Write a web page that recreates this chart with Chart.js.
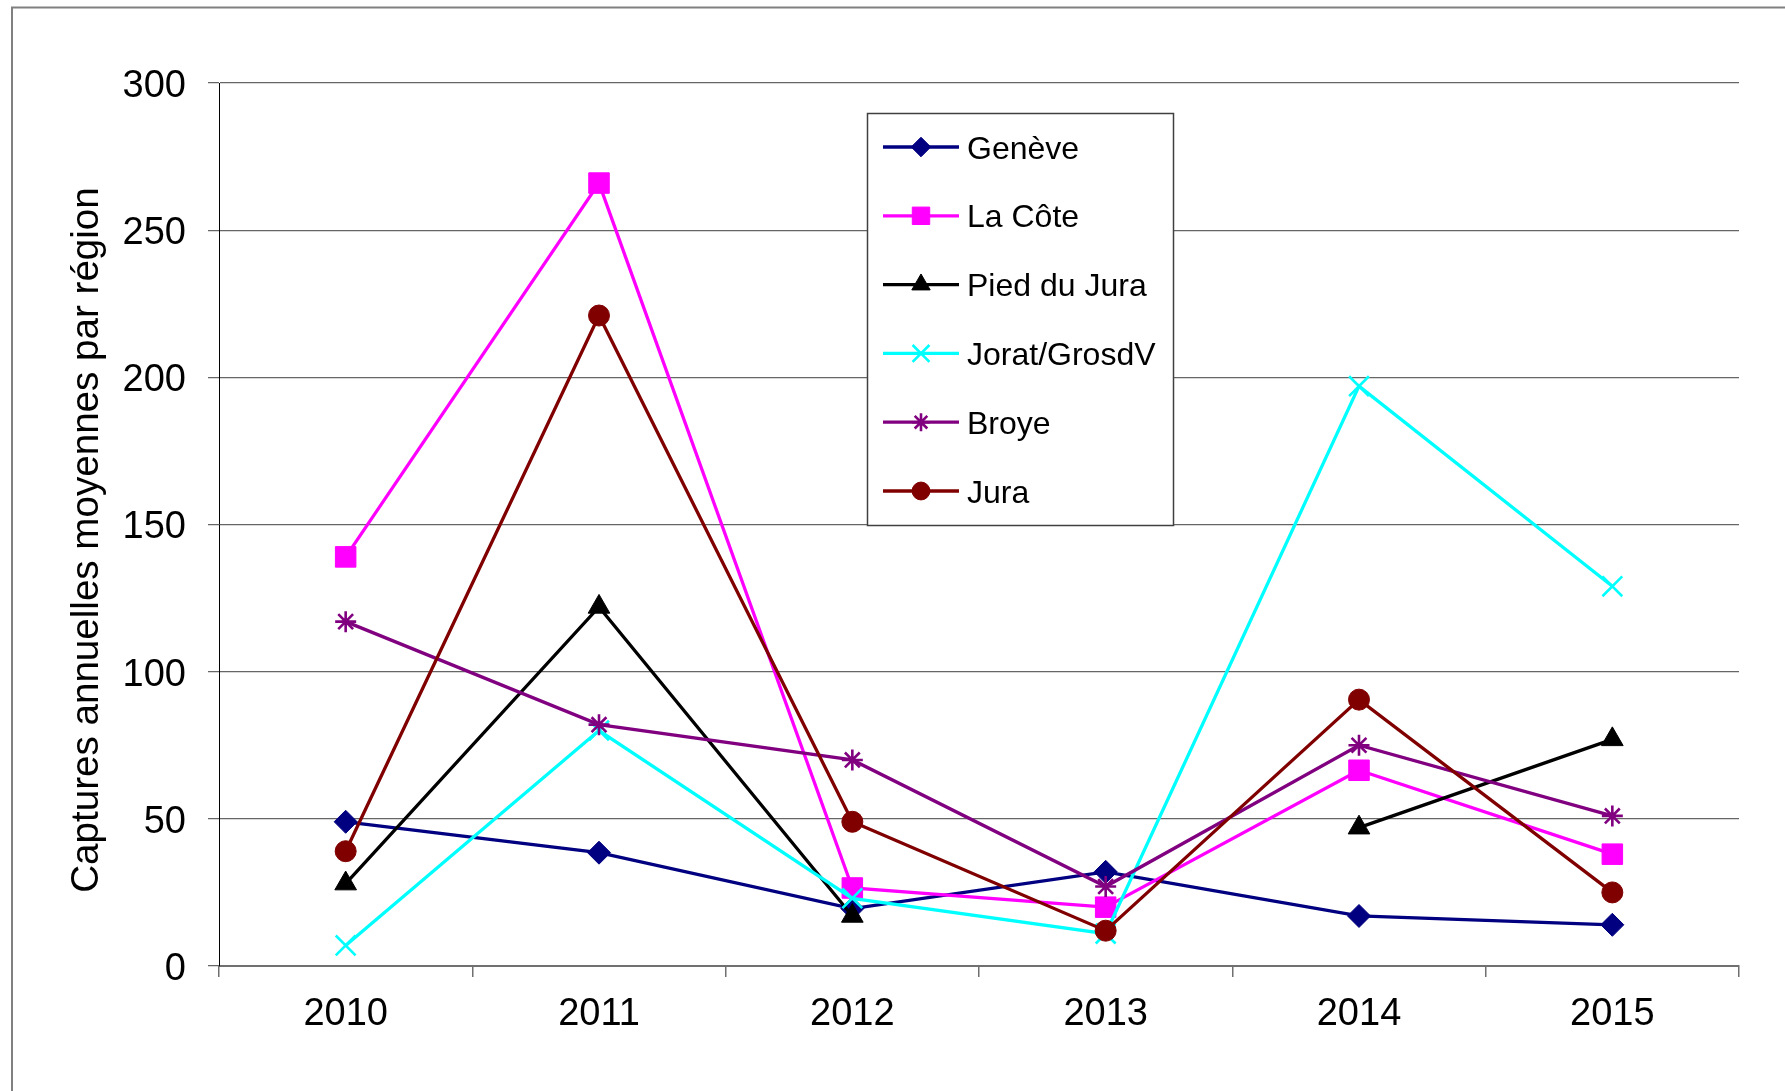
<!DOCTYPE html>
<html lang="fr">
<head>
<meta charset="utf-8">
<title>Captures annuelles moyennes par région</title>
<script src="https://cdn.jsdelivr.net/npm/chart.js@4/dist/chart.umd.min.js"></script>
<style>
  html, body { margin: 0; padding: 0; background: #ffffff; }
  #wrap { position: relative; width: 1785px; height: 1091px; }
</style>
</head>
<body>
<div id="wrap"><canvas id="chart"></canvas></div>
<script>
// Years on the horizontal axis
const years = ['2010', '2011', '2012', '2013', '2014', '2015'];

// Mean yearly captures per region
const geneve     = [49, 38.5, 19.5, 32, 17, 14];
const laCote     = [139, 266, 26.5, 20, 66.5, 38];
const piedDuJura = [28, 122, 17, null, 47, 77];
const jorat      = [7, 80, 23, 11, 197, 129];
const broye      = [117, 82, 70, 27, 75, 51];
const jura       = [39, 221, 49, 12, 90.5, 25];

// Value axis
const yMin = 0, yMax = 300, yStep = 50;
const yTitle = 'Captures annuelles moyennes par région';

const FONT = '"Liberation Sans", Arial, Helvetica, sans-serif';

function series(label, data, color, style, radius, pbw) {
  return {
    label, data,
    borderColor: color,
    backgroundColor: color,
    borderWidth: 3.3,
    tension: 0,
    spanGaps: false,
    pointStyle: style,
    pointRadius: radius,
    pointBackgroundColor: color,
    pointBorderColor: color,
    pointBorderWidth: pbw
  };
}

const datasets = [
  series('Genève', geneve, '#000080', 'rectRot', 11.5, 1),
  series('La Côte', laCote, '#FF00FF', 'rect', 14.5, 1),
  series('Pied du Jura', piedDuJura, '#000000', 'triangle', 12.5, 1),
  series('Jorat/GrosdV', jorat, '#00FFFF', 'crossRot', 14, 2.6),
  series('Broye', broye, '#800080', 'star', 10.5, 2.6),
  series('Jura', jura, '#800000', 'circle', 10.5, 1)
];
// later series are painted over earlier ones
datasets.forEach((d, i) => { d.order = datasets.length - i; });

const drawMarker = Chart.helpers.drawPoint;

// outer frame and rotated axis title
const framePlugin = {
  id: 'frame',
  beforeDraw(chart) {
    const ctx = chart.ctx;
    ctx.save();
    ctx.fillStyle = '#ffffff';
    ctx.fillRect(0, 0, chart.width, chart.height);
    ctx.strokeStyle = '#808080';
    ctx.lineWidth = 2;
    ctx.strokeRect(12, 7.5, chart.width + 50, chart.height + 50);
    ctx.restore();
  },
  afterDraw(chart) {
    const ctx = chart.ctx;
    ctx.save();
    ctx.translate(98, 540);
    ctx.rotate(-Math.PI / 2);
    ctx.font = '38.6px ' + FONT;
    ctx.fillStyle = '#000000';
    ctx.textAlign = 'center';
    ctx.textBaseline = 'alphabetic';
    ctx.fillText(yTitle, 0, 0);
    ctx.restore();
  }
};

// boxed legend: line sample with the series marker, then the name
const boxLegend = {
  id: 'boxLegend',
  afterDraw(chart) {
    const ctx = chart.ctx;
    const bx = 867, by = 113, bw = 306, bh = 412;
    ctx.save();
    ctx.fillStyle = '#ffffff';
    ctx.fillRect(bx, by, bw, bh);
    ctx.strokeStyle = '#404040';
    ctx.lineWidth = 1.5;
    ctx.strokeRect(bx + 0.5, by + 0.5, bw, bh);
    chart.data.datasets.forEach((ds, i) => {
      const cy = 147 + i * 68.8;
      ctx.strokeStyle = ds.borderColor;
      ctx.lineWidth = 3.3;
      ctx.beginPath();
      ctx.moveTo(883, cy);
      ctx.lineTo(959, cy);
      ctx.stroke();
      ctx.fillStyle = ds.pointBackgroundColor;
      ctx.strokeStyle = ds.pointBorderColor;
      ctx.lineWidth = ds.pointBorderWidth;
      drawMarker(ctx, {
        pointStyle: ds.pointStyle,
        radius: ds.pointRadius * 0.85,
        rotation: 0,
        borderWidth: ds.pointBorderWidth
      }, 921, cy);
      ctx.fillStyle = '#000000';
      ctx.font = '32px ' + FONT;
      ctx.textAlign = 'left';
      ctx.textBaseline = 'alphabetic';
      ctx.fillText(ds.label, 967, cy + 11.5);
    });
    ctx.restore();
  }
};

new Chart(document.getElementById('chart'), {
  type: 'line',
  data: { labels: years, datasets },
  plugins: [framePlugin, boxLegend],
  options: {
    responsive: true,
    maintainAspectRatio: false,
    animation: false,
    events: [],
    devicePixelRatio: 1,
    layout: { padding: { top: 83, right: 46, left: 0, bottom: 0 } },
    plugins: {
      legend: { display: false },
      tooltip: { enabled: false },
      title: { display: false }
    },
    scales: {
      x: {
        type: 'category',
        offset: true,
        afterFit(scale) { scale.height = 125; },
        grid: {
          offset: true,
          drawOnChartArea: false,
          drawTicks: true,
          tickLength: 11,
          color: '#707070',
          lineWidth: 1.5
        },
        border: { display: true, color: '#707070', width: 2 },
        ticks: {
          color: '#000000',
          padding: 15,
          font: { family: FONT, size: 38 },
          maxRotation: 0,
          autoSkip: false
        }
      },
      y: {
        min: yMin,
        max: yMax,
        afterFit(scale) { scale.width = 219; },
        afterUpdate(scale) {
          // centre the digits on their gridlines
          if (scale._labelsShifted) return;
          scale._labelsShifted = true;
          const base = scale.drawLabels;
          scale.drawLabels = function (area) {
            const ctx = this.ctx;
            ctx.save();
            ctx.translate(0, 3.5);
            base.call(this, area);
            ctx.restore();
          };
        },
        grid: {
          color: '#666666',
          lineWidth: 1.25,
          drawTicks: true,
          tickLength: 11
        },
        border: { display: true, color: '#000000', width: 1 },
        ticks: {
          stepSize: yStep,
          color: '#000000',
          padding: 22,
          font: { family: FONT, size: 38 }
        }
      }
    }
  }
});
</script>
</body>
</html>
